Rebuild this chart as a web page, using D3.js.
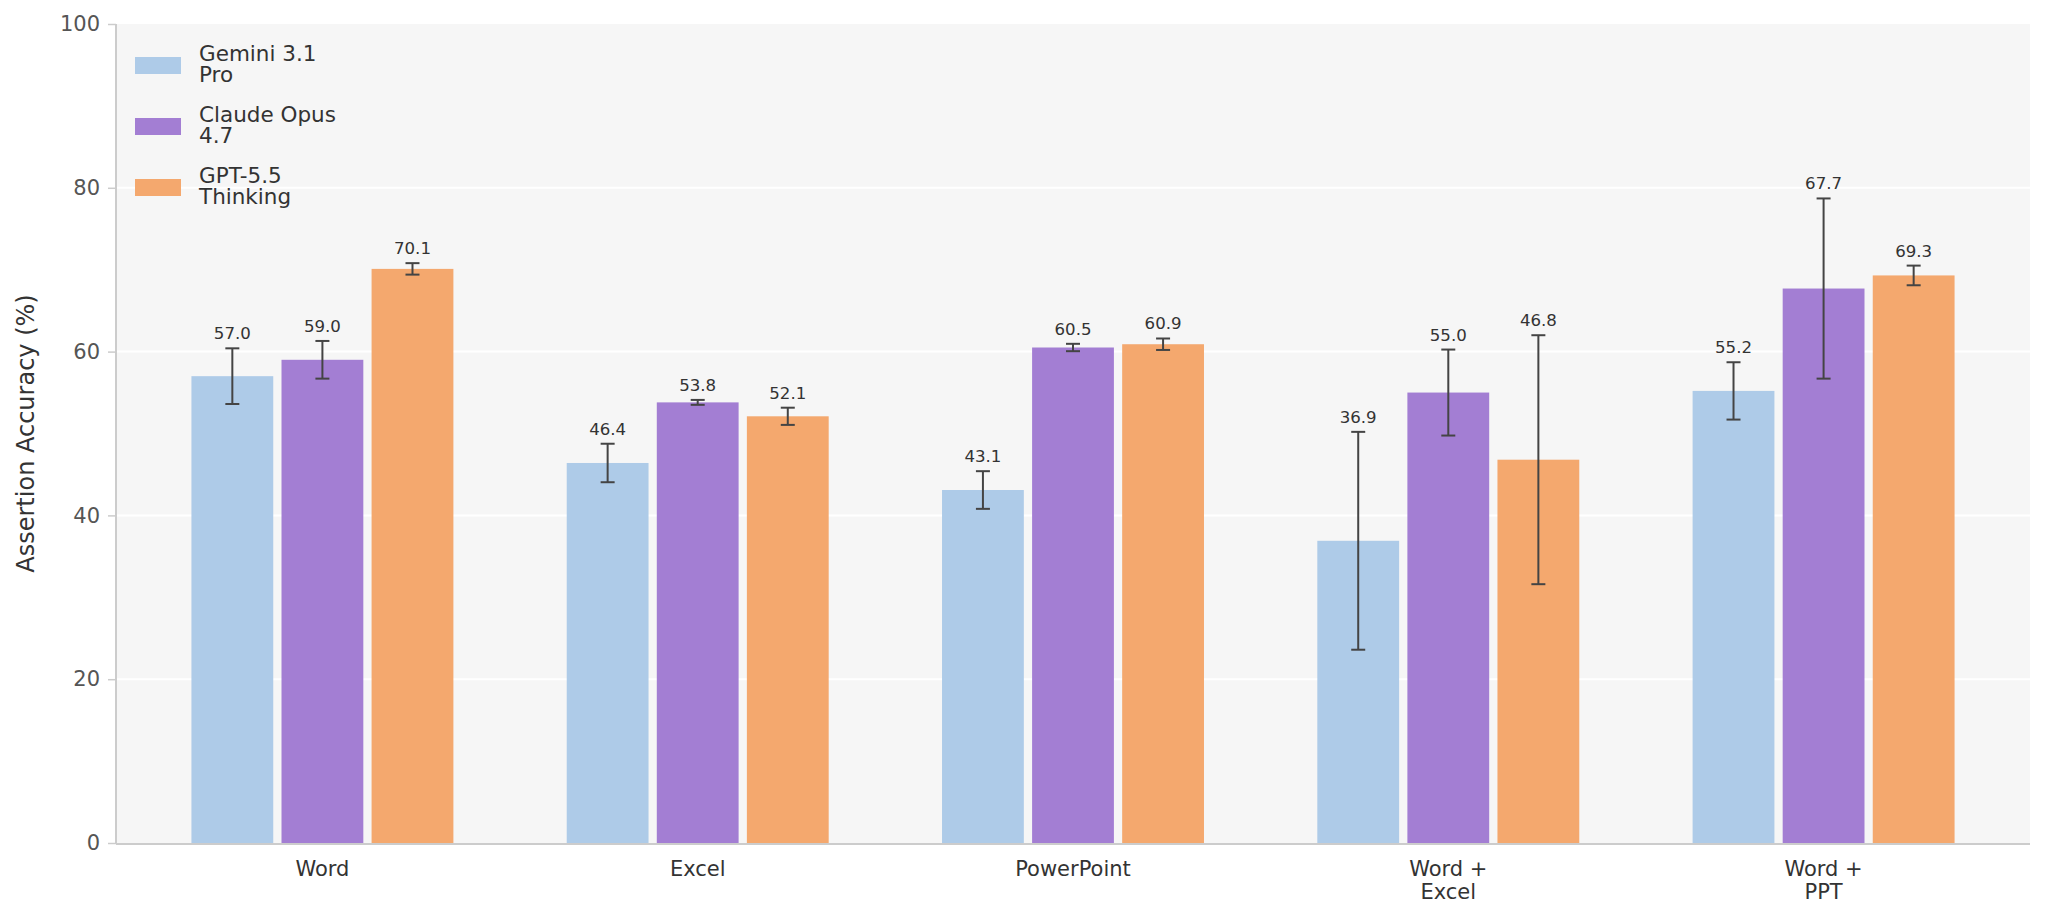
<!DOCTYPE html>
<html>
<head>
<meta charset="utf-8">
<script src="https://cdn.jsdelivr.net/npm/d3@7"></script>
<style>
  body { margin: 0; background: #fff; }
  svg { display: block; font-family: "DejaVu Sans", sans-serif; }
</style>
</head>
<body>
<div id="chart"></div>
<script>
// data
var categories = ['Word', 'Excel', 'PowerPoint', 'Word +\nExcel', 'Word +\nPPT'];
var models = ['Gemini 3.1\nPro', 'Claude Opus\n4.7', 'GPT-5.5\nThinking'];
var geminiValues = [57.0, 46.4, 43.1, 36.9, 55.2];
var claudeValues = [59.0, 53.8, 60.5, 55.0, 67.7];
var gptValues = [70.1, 52.1, 60.9, 46.8, 69.3];
var geminiErr = [3.4, 2.35, 2.3, 13.3, 3.5];
var claudeErr = [2.3, 0.3, 0.45, 5.25, 11.0];
var gptErr = [0.7, 1.05, 0.7, 15.2, 1.2];
var yTicks = [0, 20, 40, 60, 80, 100];
var colors = ['#aecbe8', '#a37ed3', '#f4a86e'];

var series = [
    { name: models[0], values: geminiValues, err: geminiErr },
    { name: models[1], values: claudeValues, err: claudeErr },
    { name: models[2], values: gptValues, err: gptErr }
];

var width = 2045, height = 919;
var margin = { left: 116, right: 15, top: 24, bottom: 76 };

var svg = d3.select('#chart').append('svg')
    .attr('width', width)
    .attr('height', height);

var x = d3.scaleLinear()
    .domain([-0.55, categories.length - 1 + 0.55])
    .range([margin.left, width - margin.right]);
var y = d3.scaleLinear()
    .domain([0, 100])
    .range([height - margin.bottom, margin.top]);

var pitch = 0.24;      // offset between bars in a group
var barW = 0.218;      // visible bar width

// plot background
svg.append('rect')
    .attr('x', x.range()[0])
    .attr('y', y(100))
    .attr('width', x.range()[1] - x.range()[0])
    .attr('height', y(0) - y(100))
    .attr('fill', '#f6f6f6');

// grid lines
svg.append('g').selectAll('line')
    .data(yTicks.filter(function(d) { return d > 0 && d < 100; }))
    .enter().append('line')
    .attr('x1', x.range()[0]).attr('x2', x.range()[1])
    .attr('y1', function(d) { return y(d); })
    .attr('y2', function(d) { return y(d); })
    .attr('stroke', '#ffffff')
    .attr('stroke-width', 2);

// bars
var groups = svg.append('g').attr('class', 'bars').selectAll('g')
    .data(series)
    .enter().append('g');

groups.each(function(s, si) {
    var g = d3.select(this);
    var off = (si - 1) * pitch;
    g.selectAll('rect')
        .data(s.values)
        .enter().append('rect')
        .attr('x', function(d, i) { return x(i + off - barW / 2); })
        .attr('width', x(barW) - x(0))
        .attr('y', function(d) { return y(d); })
        .attr('height', function(d) { return y(0) - y(d); })
        .attr('fill', colors[si]);

    // error bars
    var eb = g.selectAll('g.err')
        .data(s.values)
        .enter().append('g').attr('class', 'err')
        .attr('stroke', '#444')
        .attr('stroke-width', 2);
    eb.append('line')
        .attr('x1', function(d, i) { return x(i + off); })
        .attr('x2', function(d, i) { return x(i + off); })
        .attr('y1', function(d, i) { return y(d + s.err[i]); })
        .attr('y2', function(d, i) { return y(d - s.err[i]); });
    eb.append('line')
        .attr('x1', function(d, i) { return x(i + off) - 7; })
        .attr('x2', function(d, i) { return x(i + off) + 7; })
        .attr('y1', function(d, i) { return y(d + s.err[i]); })
        .attr('y2', function(d, i) { return y(d + s.err[i]); });
    eb.append('line')
        .attr('x1', function(d, i) { return x(i + off) - 7; })
        .attr('x2', function(d, i) { return x(i + off) + 7; })
        .attr('y1', function(d, i) { return y(d - s.err[i]); })
        .attr('y2', function(d, i) { return y(d - s.err[i]); });

    // value labels above error bars
    g.selectAll('text')
        .data(s.values)
        .enter().append('text')
        .attr('x', function(d, i) { return x(i + off); })
        .attr('y', function(d, i) { return y(d + s.err[i]) - 9; })
        .attr('text-anchor', 'middle')
        .attr('fill', '#333')
        .style('font-size', '16.6px')
        .text(function(d) { return d.toFixed(1); });
});

// y axis
var yAxis = d3.axisLeft(y).tickValues(yTicks).tickSize(8).tickPadding(8);
var yg = svg.append('g')
    .attr('transform', 'translate(' + x.range()[0] + ',0)')
    .call(yAxis);
yg.select('.domain').attr('stroke', '#cccccc').attr('stroke-width', 2)
    .attr('d', 'M0,' + y(100) + 'V' + y(0));
yg.selectAll('.tick line').attr('stroke', '#cccccc').attr('stroke-width', 1.5);
yg.selectAll('.tick text')
    .attr('fill', '#555')
    .style('font-size', '21px')
    .style('font-family', '"DejaVu Sans", sans-serif');

// x axis line
svg.append('line')
    .attr('x1', x.range()[0]).attr('x2', x.range()[1])
    .attr('y1', y(0) + 1).attr('y2', y(0) + 1)
    .attr('stroke', '#cccccc')
    .attr('stroke-width', 2);

// x labels
var xl = svg.append('g').selectAll('text')
    .data(categories)
    .enter().append('text')
    .attr('text-anchor', 'middle')
    .attr('fill', '#333')
    .style('font-size', '21px');
xl.each(function(d, i) {
    var t = d3.select(this);
    d.split('\n').forEach(function(line, k) {
        t.append('tspan')
            .attr('x', x(i))
            .attr('y', 876 + k * 23)
            .text(line);
    });
});

// y label
svg.append('text')
    .attr('transform', 'translate(34,' + ((y(0) + y(100)) / 2) + ') rotate(-90)')
    .attr('text-anchor', 'middle')
    .attr('fill', '#333')
    .style('font-size', '24px')
    .text('Assertion Accuracy (%)');

// legend
var legend = svg.append('g').attr('class', 'legend');
series.forEach(function(s, si) {
    var cy = 65.5 + si * 61;
    legend.append('rect')
        .attr('x', 135).attr('y', cy - 8.5)
        .attr('width', 46).attr('height', 17)
        .attr('fill', colors[si]);
    var t = legend.append('text')
        .attr('fill', '#333')
        .style('font-size', '21.5px');
    s.name.split('\n').forEach(function(line, k) {
        t.append('tspan')
            .attr('x', 199)
            .attr('y', cy - 5 + k * 21)
            .text(line);
    });
});
</script>
</body>
</html>
